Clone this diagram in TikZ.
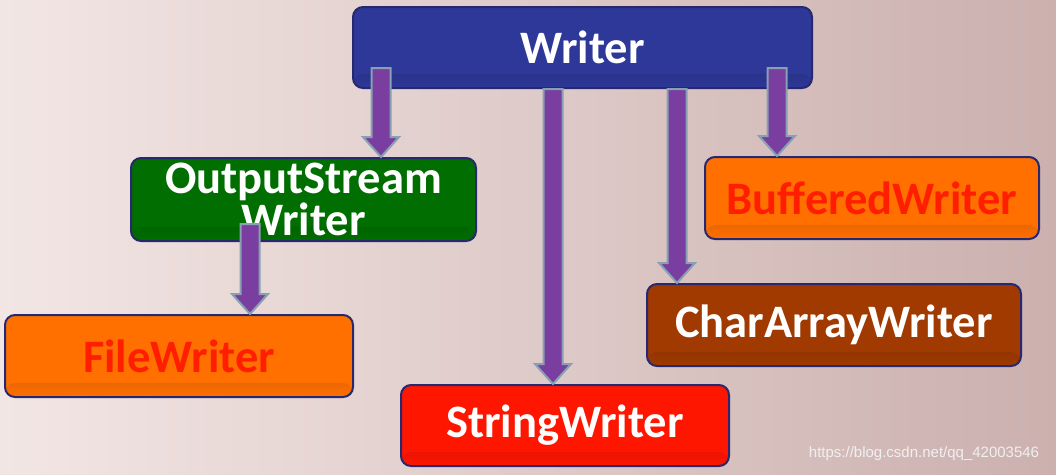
\documentclass[tikz,border=0pt]{standalone}
\usepackage{fontspec}
\setmainfont{Carlito}
\newfontfamily\wmfont{Liberation Sans}
\usetikzlibrary{calc,fadings}
\definecolor{bgL}{RGB}{242,230,228}
\definecolor{bgR}{RGB}{203,176,174}
\definecolor{boxline}{RGB}{40,40,110}
\definecolor{cblue}{RGB}{46,56,152}
\definecolor{cgreen}{RGB}{0,110,0}
\definecolor{corange}{RGB}{255,112,0}
\definecolor{cred}{RGB}{255,22,0}
\definecolor{cbrown}{RGB}{160,58,0}
\definecolor{tred}{RGB}{255,30,0}
\definecolor{apurple}{RGB}{122,62,160}
\definecolor{aline}{RGB}{135,160,178}
\newcommand\blockarrow[2]{%
  \draw[barrow] let \p1=(#1), \p2=(#2) in
    (\x1-9.5pt,\y1) -- (\x1-9.5pt,\y2+20pt) -- (\x1-18pt,\y2+20pt) -- (\x1,\y2)
    -- (\x1+18pt,\y2+20pt) -- (\x1+9.5pt,\y2+20pt) -- (\x1+9.5pt,\y1) -- cycle;}
\begin{document}
\begin{tikzpicture}[x=1pt,y=-1pt,
  box/.style={draw=boxline, line width=2pt, rounded corners=10pt, inner sep=0pt,
    font=\fontsize{46.5}{42}\selectfont\bfseries, align=center, text=white,
    path picture={\fill[black, opacity=0.45, path fading=south]
      (path picture bounding box.south west) rectangle
      ($(path picture bounding box.south east)+(0,-14)$);}},
  barrow/.style={fill=apurple, draw=aline, line width=2pt, line join=miter}]
\shade[left color=bgL, right color=bgR] (0,0) rectangle (1056,474);
\useasboundingbox (0,0) rectangle (1056,474);

\node[box, fill=cblue, minimum width=459pt, minimum height=81pt] (w) at (582.5,47.5) {Writer};
\node[box, fill=cgreen, minimum width=345pt, minimum height=83pt] (osw) at (303.5,199.5) {OutputStream\\Writer};
\node[box, fill=corange, text=tred, minimum width=348pt, minimum height=82pt] (fw) at (179,356) {FileWriter};
\node[box, fill=cred, minimum width=328pt, minimum height=81pt] (sw) at (565,425.5) {StringWriter};
\node[box, fill=cbrown, minimum width=374pt, minimum height=82pt] (caw) at (834,325) {CharArrayWriter};
\node[box, fill=corange, text=tred, minimum width=334pt, minimum height=82pt] (bw) at (872,198) {BufferedWriter};

\coordinate (a1) at (381,68);
\coordinate (a2) at (553,89);
\coordinate (a3) at (677,89);
\coordinate (a4) at (777,68);
\coordinate (a5) at (250,224);
\blockarrow{a1}{a1 |- osw.north}
\blockarrow{a2}{a2 |- sw.north}
\blockarrow{a3}{a3 |- caw.north}
\blockarrow{a4}{a4 |- bw.north}
\blockarrow{a5}{a5 |- fw.north}

\node[font=\wmfont\fontsize{15}{15}\selectfont, text=white!88!gray, inner sep=0pt] (wm) at (924,454) {https://blog.csdn.net/qq\_42003546};
\end{tikzpicture}
\end{document}
